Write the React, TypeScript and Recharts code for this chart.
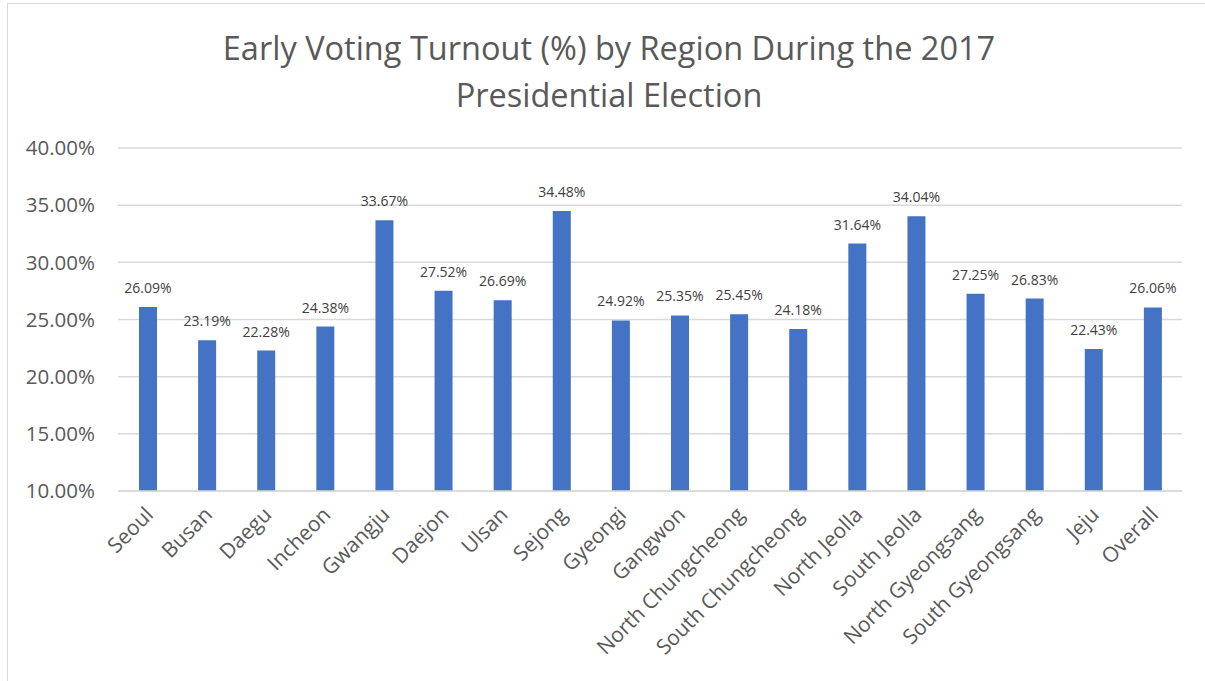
import React from 'react'
import { BarChart, Bar, XAxis, YAxis, CartesianGrid, LabelList } from 'recharts'

const regions = [
  'Seoul', 'Busan', 'Daegu', 'Incheon', 'Gwangju', 'Daejon', 'Ulsan', 'Sejong', 'Gyeongi',
  'Gangwon', 'North Chungcheong', 'South Chungcheong', 'North Jeolla', 'South Jeolla',
  'North Gyeongsang', 'South Gyeongsang', 'Jeju', 'Overall',
]
const turnout = [
  26.09, 23.19, 22.28, 24.38, 33.67, 27.52, 26.69, 34.48, 24.92,
  25.35, 25.45, 24.18, 31.64, 34.04, 27.25, 26.83, 22.43, 26.06,
]
const yTicks = [10, 15, 20, 25, 30, 35, 40]

const FONT = '"Open Sans", "Liberation Sans", sans-serif'
const data = regions.map((r, i) => ({ region: r, value: turnout[i] }))

function RegionTick({ x, y, payload }: any) {
  const ax = x + 7
  const ay = y + 17
  return (
    <text
      x={ax}
      y={ay}
      transform={`rotate(-45, ${ax}, ${ay})`}
      textAnchor="end"
      fontSize={21}
      fill="#595959"
      fontFamily={FONT}
    >
      {payload.value}
    </text>
  )
}

export default function App() {
  return (
    <div style={{ position: 'absolute', left: 0, top: 0, width: 1205, height: 681, background: '#fff', fontFamily: FONT }}>
      <div style={{ position: 'absolute', left: 7, top: 3, width: 1200, height: 680, borderLeft: '1px solid #d9d9d9', borderTop: '1px solid #d9d9d9' }} />
      <div style={{ position: 'absolute', left: 0, top: 24, width: 1218, textAlign: 'center', fontSize: 32.5, lineHeight: '47px', color: '#595959' }}>
        Early Voting Turnout (%) by Region During the 2017<br />Presidential Election
      </div>
      <BarChart width={1205} height={681} data={data} margin={{ top: 148, right: 23, bottom: 0, left: 0 }}>
        <CartesianGrid vertical={false} stroke="#d9d9d9" strokeWidth={1.5} />
        <XAxis
          dataKey="region"
          interval={0}
          height={190}
          tickLine={false}
          axisLine={{ stroke: '#d9d9d9', strokeWidth: 1.5 }}
          tick={<RegionTick />}
        />
        <YAxis
          domain={[10, 40]}
          ticks={yTicks}
          width={118}
          axisLine={false}
          tickLine={false}
          tickMargin={17}
          tick={{ fontSize: 20.5, fill: '#595959', fontFamily: FONT }}
          tickFormatter={(v: number) => `${v.toFixed(2)}%`}
        />
        <Bar dataKey="value" fill="#4472C4" barSize={18} isAnimationActive={false}>
          <LabelList
            dataKey="value"
            position="top"
            offset={14}
            formatter={(v: any) => `${Number(v).toFixed(2)}%`}
            style={{ fontSize: 14, fill: '#404040', fontFamily: FONT }}
          />
        </Bar>
      </BarChart>
    </div>
  )
}
